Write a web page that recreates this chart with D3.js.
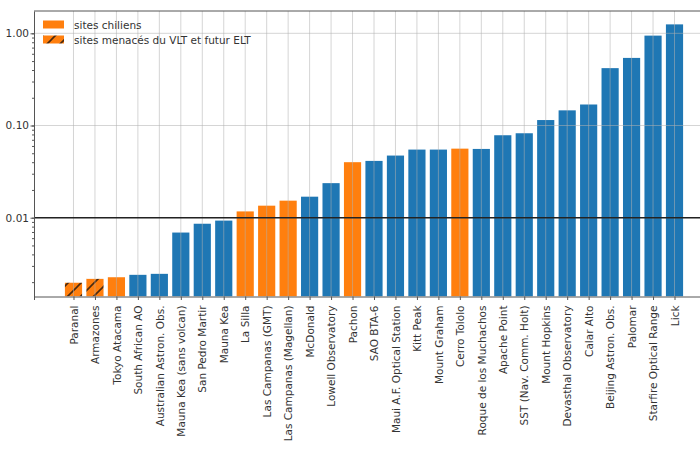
<!DOCTYPE html>
<html>
<head>
<meta charset="utf-8">
<script src="https://cdn.jsdelivr.net/npm/d3@7"></script>
<style>
  html, body { margin: 0; padding: 0; background: #fff; }
  svg { display: block; font-family: "DejaVu Sans", sans-serif; }
</style>
</head>
<body>
<svg id="chart" width="700" height="450"></svg>
<script>
const sites = ["Paranal", "Armazones", "Tokyo Atacama", "South African AO", "Australian Astron. Obs.",
  "Mauna Kea (sans volcan)", "San Pedro Martir", "Mauna Kea", "La Silla", "Las Campanas (GMT)",
  "Las Campanas (Magellan)", "McDonald", "Lowell Observatory", "Pachon", "SAO BTA-6",
  "Maui A.F. Optical Station", "Kitt Peak", "Mount Graham", "Cerro Tololo", "Roque de los Muchachos",
  "Apache Point", "SST (Nav. Comm. Holt)", "Mount Hopkins", "Devasthal Observatory", "Calar Alto",
  "Beijing Astron. Obs.", "Palomar", "Starfire Optical Range", "Lick"];
const values = [0.00197, 0.00217, 0.00226, 0.0024, 0.00246,
  0.0069, 0.0086, 0.0093, 0.0117, 0.0135,
  0.0153, 0.0169, 0.0237, 0.040, 0.0413,
  0.0472, 0.0548, 0.0548, 0.0561, 0.0557,
  0.0784, 0.0824, 0.1146, 0.146, 0.169,
  0.419, 0.541, 0.944, 1.25];
const chilean = ["Paranal", "Armazones", "Tokyo Atacama", "La Silla", "Las Campanas (GMT)",
  "Las Campanas (Magellan)", "Pachon", "Cerro Tololo"];
const threatened = ["Paranal", "Armazones"];
const yTicks = [0.01, 0.1, 1];
const refLine = 0.01;
const legendLabels = ["sites chiliens", "sites menacés du VLT et futur ELT"];

const BLUE = "#1f77b4", ORANGE = "#ff7f0e";
const svg = d3.select("#chart");
const L = 34, T = 11, R = 714, B = 296.5;

const n = sites.length;
const x = d3.scaleLinear().domain([-0.4 - 0.05 * (n - 0.2), (n - 1) + 0.4 + 0.05 * (n - 0.2)]).range([L, R]);
const y = d3.scaleLog().domain([0.001397, 1.746]).range([B, T]);
const bw = x(0.8) - x(0);

const defs = svg.append("defs");
const pat = defs.append("pattern").attr("id", "hatch").attr("patternUnits", "userSpaceOnUse")
  .attr("width", 13).attr("height", 13);
pat.append("rect").attr("width", 13).attr("height", 13).attr("fill", ORANGE);
pat.append("path").attr("d", "M-2,15 L15,-2 M-2,2 L2,-2 M11,15 L15,11")
  .attr("stroke", "#4a2a10").attr("stroke-width", 1.6);
const clip = defs.append("clipPath").attr("id", "clip");
clip.append("rect").attr("x", L).attr("y", T).attr("width", R - L).attr("height", B - T);

// bars
const g = svg.append("g").attr("clip-path", "url(#clip)");
g.selectAll("rect.bar").data(sites).join("rect").attr("class", "bar")
  .attr("x", (d, i) => x(i) - bw / 2)
  .attr("width", bw)
  .attr("y", (d, i) => y(values[i]))
  .attr("height", (d, i) => B - y(values[i]))
  .attr("fill", d => threatened.includes(d) ? "url(#hatch)" : (chilean.includes(d) ? ORANGE : BLUE));

// grid on top
g.selectAll("line.vg").data(sites).join("line").attr("class", "vg")
  .attr("x1", (d, i) => x(i)).attr("x2", (d, i) => x(i))
  .attr("y1", T).attr("y2", B)
  .attr("stroke", "#b0b0b0").attr("stroke-opacity", 0.6).attr("stroke-width", 0.9);
g.selectAll("line.hg").data(yTicks).join("line").attr("class", "hg")
  .attr("x1", L).attr("x2", R).attr("y1", d => y(d)).attr("y2", d => y(d))
  .attr("stroke", "#b0b0b0").attr("stroke-opacity", 0.6).attr("stroke-width", 0.9);

// reference line
svg.append("line").attr("x1", L).attr("x2", R).attr("y1", y(refLine)).attr("y2", y(refLine))
  .attr("stroke", "#222").attr("stroke-width", 1.4);

// axes
const xAxis = d3.axisBottom(x).tickValues(d3.range(n)).tickFormat(i => sites[i]).tickSizeOuter(0).tickSize(3.5);
const gx = svg.append("g").attr("transform", `translate(0,${B})`).call(xAxis);
gx.select(".domain").attr("stroke", "#555");
gx.selectAll(".tick line").attr("stroke", "#555");
gx.selectAll(".tick text")
  .attr("transform", "rotate(-90)")
  .attr("text-anchor", "end")
  .attr("x", -9).attr("y", 0).attr("dy", "0.35em")
  .attr("font-size", 10.5).attr("fill", "#333")
  .attr("font-family", "DejaVu Sans, sans-serif");

const minorTicks = [];
[0.001, 0.01, 0.1, 1].forEach(dec => { for (let k = 1; k <= 9; k++) { const v = dec * k; if (v >= 0.001397 && v <= 1.746) minorTicks.push(v); } });
const gyMinor = svg.append("g").attr("transform", `translate(${L},0)`)
  .call(d3.axisLeft(y).tickValues(minorTicks).tickFormat("").tickSize(2).tickSizeOuter(0));
gyMinor.select(".domain").remove();
gyMinor.selectAll(".tick line").attr("stroke", "#555");
const gy = svg.append("g").attr("transform", `translate(${L},0)`)
  .call(d3.axisLeft(y).tickValues(yTicks).tickFormat(d3.format(".2f")).tickSize(3.5).tickSizeOuter(0));
gy.select(".domain").attr("stroke", "#555");
gy.selectAll(".tick line").attr("stroke", "#555");
gy.selectAll(".tick text").attr("font-size", 10.5).attr("fill", "#333")
  .attr("font-family", "DejaVu Sans, sans-serif").attr("x", -5);

// top spine
svg.append("line").attr("x1", L).attr("x2", R).attr("y1", T).attr("y2", T).attr("stroke", "#555");

// legend
const lg = svg.append("g");
legendLabels.forEach((lab, i) => {
  const yy = 25 + i * 15;
  lg.append("rect").attr("x", 43).attr("y", yy - 4.5).attr("width", 21).attr("height", 8)
    .attr("fill", i === 0 ? ORANGE : "url(#hatch)");
  lg.append("text").attr("x", 74).attr("y", yy).attr("dy", "0.35em")
    .attr("font-size", 10.5).attr("fill", "#333").text(lab);
});
</script>
</body>
</html>
